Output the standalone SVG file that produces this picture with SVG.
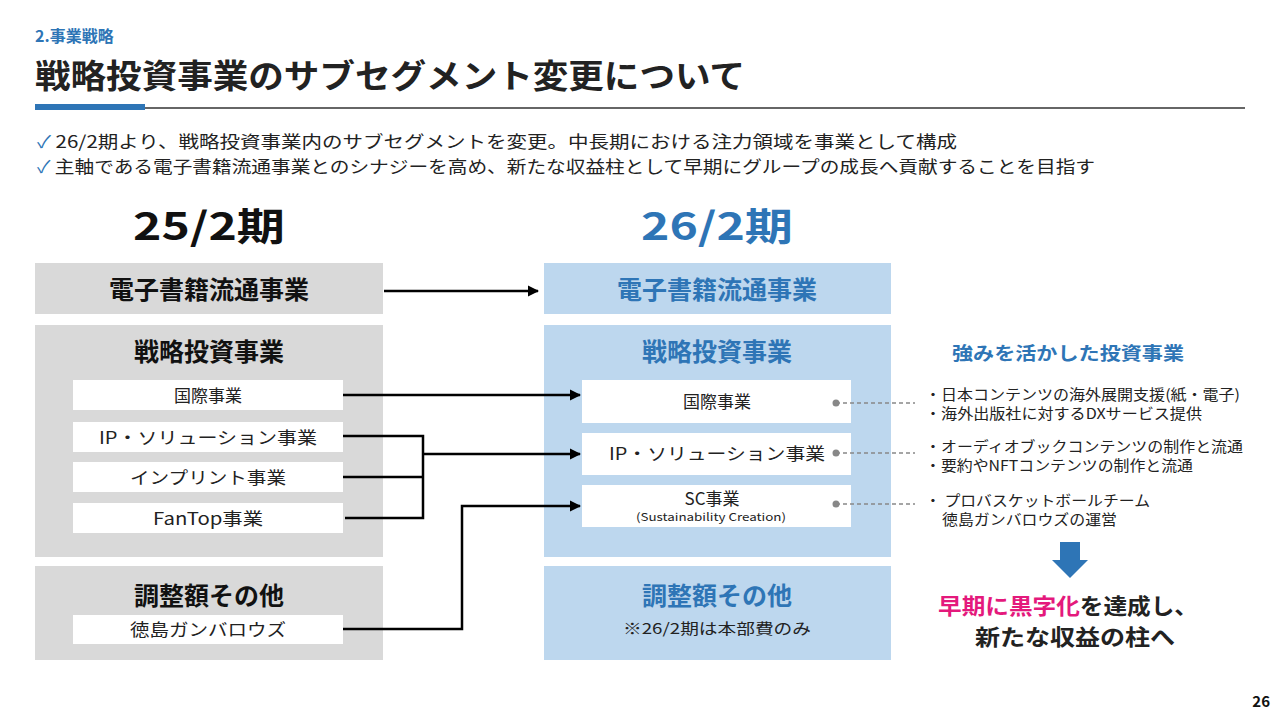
<svg xmlns="http://www.w3.org/2000/svg" width="1280" height="720" viewBox="0 0 1280 720">
<style>
text{font-family:"Noto Sans CJK JP","Noto Sans",sans-serif;}
.b{font-weight:700}
.gray{fill:#d9d9d9}
.blue{fill:#bdd7ee}
.w{fill:#fff}
.c{stroke:#000;stroke-width:2.5;fill:none}
.d{stroke:#888;stroke-width:1.3;stroke-dasharray:4 3;fill:none}
</style>
<defs>
<marker id="ar" viewBox="0 0 10 10" refX="9" refY="5" markerWidth="4.5" markerHeight="4.5" orient="auto" markerUnits="strokeWidth"><path d="M0,0L10,5L0,10z" fill="#000"/></marker>
</defs>
<rect width="1280" height="720" fill="#fff"/>
<text x="35" y="42" font-size="16" class="b" fill="#2e75b6">2.事業戦略</text>
<text x="35" y="88" font-size="33" class="b" fill="#222" textLength="710" lengthAdjust="spacingAndGlyphs">戦略投資事業のサブセグメント変更について</text>
<line x1="35" y1="108" x2="1245" y2="108" stroke="#333" stroke-width="1.5"/>
<rect x="35" y="104" width="110" height="6" fill="#2e75b6"/>
<text x="37" y="148" font-size="17" fill="#222" textLength="920" lengthAdjust="spacingAndGlyphs"><tspan fill="#2e75b6">✓</tspan> 26/2期より、戦略投資事業内のサブセグメントを変更。中長期における注力領域を事業として構成</text>
<text x="37" y="173" font-size="17" fill="#222" textLength="1058" lengthAdjust="spacingAndGlyphs"><tspan fill="#2e75b6">✓</tspan> 主軸である電子書籍流通事業とのシナジーを高め、新たな収益柱として早期にグループの成長へ貢献することを目指す</text>
<text x="209" y="240" font-size="38" class="b" text-anchor="middle" fill="#111" textLength="152" lengthAdjust="spacingAndGlyphs">25/2期</text>
<text x="717" y="240" font-size="38" class="b" text-anchor="middle" fill="#2e75b6" textLength="152" lengthAdjust="spacingAndGlyphs">26/2期</text>
<g id="left-ebook"><rect class="gray" x="35" y="263" width="348" height="51"/><text x="209" y="299" font-size="25" class="b" text-anchor="middle" fill="#111">電子書籍流通事業</text></g>
<g id="left-strategy"><rect class="gray" x="35" y="325" width="348" height="232"/><text x="209" y="361" font-size="25" class="b" text-anchor="middle" fill="#111">戦略投資事業</text></g>
<g id="l-kokusai"><rect class="w" x="73" y="380" width="270" height="30"/><text x="208" y="402" font-size="17" text-anchor="middle" fill="#222">国際事業</text></g>
<g id="l-ip"><rect class="w" x="73" y="422" width="270" height="30"/><text x="208" y="444" font-size="17" text-anchor="middle" fill="#222" textLength="218" lengthAdjust="spacingAndGlyphs">IP・ソリューション事業</text></g>
<g id="l-imprint"><rect class="w" x="73" y="462" width="270" height="30"/><text x="208" y="484" font-size="17" text-anchor="middle" fill="#222" textLength="156" lengthAdjust="spacingAndGlyphs">インプリント事業</text></g>
<g id="l-fantop"><rect class="w" x="73" y="503" width="270" height="30"/><text x="208" y="525" font-size="17" text-anchor="middle" fill="#222" textLength="110" lengthAdjust="spacingAndGlyphs">FanTop事業</text></g>
<g id="left-adj"><rect class="gray" x="35" y="566" width="348" height="94"/><text x="209" y="605" font-size="25" class="b" text-anchor="middle" fill="#111">調整額その他</text></g>
<g id="l-tokushima"><rect class="w" x="73" y="615" width="270" height="29"/><text x="208" y="636" font-size="17" text-anchor="middle" fill="#222" textLength="156" lengthAdjust="spacingAndGlyphs">徳島ガンバロウズ</text></g>
<g id="right-ebook"><rect class="blue" x="544" y="263" width="347" height="51"/><text x="717" y="299" font-size="25" class="b" text-anchor="middle" fill="#2e75b6">電子書籍流通事業</text></g>
<g id="right-strategy"><rect class="blue" x="544" y="325" width="347" height="232"/><text x="717" y="361" font-size="25" class="b" text-anchor="middle" fill="#2e75b6">戦略投資事業</text></g>
<g id="r-kokusai"><rect class="w" x="582" y="380" width="269" height="43"/><text x="717" y="408" font-size="17" text-anchor="middle" fill="#222">国際事業</text></g>
<g id="r-ip"><rect class="w" x="582" y="433" width="269" height="42"/><text x="717" y="460" font-size="17" text-anchor="middle" fill="#222" textLength="216" lengthAdjust="spacingAndGlyphs">IP・ソリューション事業</text></g>
<g id="r-sc"><rect class="w" x="582" y="485" width="269" height="42"/><text x="712" y="505" font-size="17" text-anchor="middle" fill="#222">SC事業</text><text x="711" y="521" font-size="11" text-anchor="middle" fill="#222" textLength="150" lengthAdjust="spacingAndGlyphs">(Sustainability Creation)</text></g>
<g id="right-adj"><rect class="blue" x="544" y="566" width="347" height="94"/><text x="717" y="605" font-size="25" class="b" text-anchor="middle" fill="#2e75b6">調整額その他</text><text x="717" y="634" font-size="15" text-anchor="middle" fill="#222" textLength="188" lengthAdjust="spacingAndGlyphs">※26/2期は本部費のみ</text></g>
<g id="connectors">
<line class="c" x1="384" y1="291" x2="538" y2="291" marker-end="url(#ar)"/>
<line class="c" x1="343" y1="395" x2="580" y2="395" marker-end="url(#ar)"/>
<path class="c" d="M343 436H423V518H345M343 477H423M423 454H580" marker-end="url(#ar)"/>
<path class="c" d="M343 629H462V506H580" marker-end="url(#ar)"/>
<line class="d" x1="836" y1="403" x2="915" y2="403"/><circle cx="836" cy="403" r="3.5" fill="#888"/>
<line class="d" x1="836" y1="453" x2="915" y2="453"/><circle cx="836" cy="453" r="3.5" fill="#888"/>
<line class="d" x1="836" y1="504" x2="915" y2="504"/><circle cx="836" cy="504" r="3.5" fill="#888"/>
</g>
<g id="notes">
<text x="1068" y="360" font-size="18" class="b" text-anchor="middle" fill="#2e75b6" textLength="232" lengthAdjust="spacingAndGlyphs">強みを活かした投資事業</text>
<text x="925" y="400" font-size="14.5" fill="#222" textLength="315" lengthAdjust="spacingAndGlyphs">・日本コンテンツの海外展開支援(紙・電子)</text>
<text x="925" y="419" font-size="14.5" fill="#222" textLength="277" lengthAdjust="spacingAndGlyphs">・海外出版社に対するDXサービス提供</text>
<text x="925" y="452" font-size="14.5" fill="#222" textLength="318" lengthAdjust="spacingAndGlyphs">・オーディオブックコンテンツの制作と流通</text>
<text x="925" y="471" font-size="14.5" fill="#222" textLength="268" lengthAdjust="spacingAndGlyphs">・要約やNFTコンテンツの制作と流通</text>
<text x="925" y="506" font-size="14.5" fill="#222" textLength="225" lengthAdjust="spacingAndGlyphs">・ プロバスケットボールチーム</text>
<text x="942" y="525" font-size="14.5" fill="#222" textLength="175" lengthAdjust="spacingAndGlyphs">徳島ガンバロウズの運営</text>
<path d="M1060 542H1080V560H1088L1070 578L1052 560H1060Z" fill="#2e75b6"/>
<text x="1068" y="614" font-size="22" class="b" text-anchor="middle" fill="#222" textLength="260" lengthAdjust="spacingAndGlyphs"><tspan fill="#e4197c">早期に黒字化</tspan>を達成し、</text>
<text x="1075" y="645" font-size="22" class="b" text-anchor="middle" fill="#222" textLength="200" lengthAdjust="spacingAndGlyphs">新たな収益の柱へ</text>
</g>
<text x="1270" y="707" font-size="15" class="b" text-anchor="end" fill="#111">26</text>
</svg>
